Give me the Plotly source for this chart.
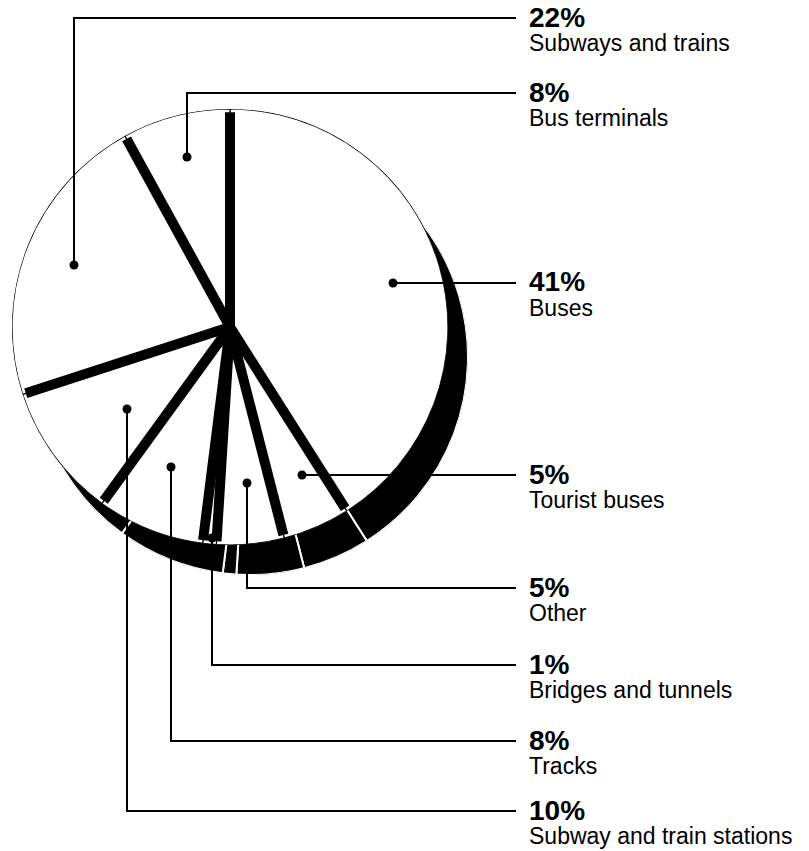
import plotly.graph_objects as go

# ---- data ----
categories = ["Buses", "Tourist buses", "Other", "Bridges and tunnels", "Tracks",
              "Subway and train stations", "Subways and trains", "Bus terminals"]
values = [41, 5, 5, 1, 8, 10, 22, 8]
pct_labels = ["41%", "5%", "5%", "1%", "8%", "10%", "22%", "8%"]

W, H = 809, 851
FONT = "Liberation Sans, Arial, Helvetica, sans-serif"

# slice geometry derived from the values (degrees, clockwise from top)
total = sum(values)
widths = [v / total * 360 for v in values]
starts = []
acc = 0
for w in widths:
    starts.append(acc)
    acc += w
mids = [s + w / 2 for s, w in zip(starts, widths)]

# ---- layout helpers (pixel -> paper) ----
def px(x):
    return x / W

def py(y):
    return 1 - y / H

cx, cy, R = 230, 327, 218          # pie center / radius in pixels
sdx, sdy = 20, 30                  # shadow offset in pixels

fig = go.Figure()

# shadow pie
fig.add_trace(go.Barpolar(
    r=[1] * len(values), theta=mids, width=widths, base=0,
    marker=dict(color="black", line=dict(color="white", width=2)),
    subplot="polar", hoverinfo="skip", showlegend=False))

# main pie
fig.add_trace(go.Barpolar(
    r=[1] * len(values), theta=mids, width=widths, base=0,
    marker=dict(color="white", line=dict(color="black", width=1.2)),
    subplot="polar2", text=categories, hoverinfo="text", showlegend=False))

# thick separators at slice boundaries
sep_r, sep_t = [], []
for s in starts:
    sep_r += [0, 0.985, None]
    sep_t += [s, s, None]
fig.add_trace(go.Scatterpolar(
    r=sep_r, theta=sep_t, mode="lines",
    line=dict(color="black", width=10),
    subplot="polar2", hoverinfo="skip", showlegend=False))

def polar_layout(ox, oy):
    return dict(
        domain=dict(x=[px(cx - R + ox), px(cx + R + ox)],
                    y=[py(cy + R + oy), py(cy - R + oy)]),
        bgcolor="rgba(0,0,0,0)",
        radialaxis=dict(visible=False, range=[0, 1]),
        angularaxis=dict(visible=False, rotation=90, direction="clockwise"),
        hole=0,
    )

# leader lines: dot position and label y (pixels)
dots = {
    "Buses": (393, 283),
    "Tourist buses": (302, 475),
    "Other": (247, 483),
    "Bridges and tunnels": (212, 538),
    "Tracks": (171, 467),
    "Subway and train stations": (127, 409),
    "Subways and trains": (74, 265),
    "Bus terminals": (187, 157),
}
label_y = {
    "Subways and trains": 18,
    "Bus terminals": 93,
    "Buses": 283,
    "Tourist buses": 475,
    "Other": 588,
    "Bridges and tunnels": 665,
    "Tracks": 741,
    "Subway and train stations": 811,
}
LINE_END = 516
TEXT_X = 527

shapes = []
annotations = []
for cat, pct in zip(categories, pct_labels):
    dx, dy = dots[cat]
    ly = label_y[cat]
    path = f"M {px(dx)} {py(dy)} L {px(dx)} {py(ly)} L {px(LINE_END)} {py(ly)}"
    shapes.append(dict(type="path", xref="paper", yref="paper", path=path,
                       line=dict(color="black", width=2), layer="above"))
    r = 4.5
    shapes.append(dict(type="circle", xref="paper", yref="paper",
                       x0=px(dx - r), x1=px(dx + r), y0=py(dy + r), y1=py(dy - r),
                       fillcolor="black", line=dict(color="black", width=0),
                       layer="above"))
    annotations.append(dict(x=px(TEXT_X), y=py(ly - 1), xref="paper", yref="paper",
                            xanchor="left", yanchor="middle", showarrow=False,
                            text=f"<b>{pct}</b>",
                            font=dict(family=FONT, size=28, color="black")))
    annotations.append(dict(x=px(TEXT_X), y=py(ly + 25), xref="paper", yref="paper",
                            xanchor="left", yanchor="middle", showarrow=False,
                            text=cat,
                            font=dict(family=FONT, size=23, color="black")))

fig.update_layout(
    width=W, height=H,
    margin=dict(l=0, r=0, t=0, b=0),
    paper_bgcolor="white", plot_bgcolor="white",
    polar=polar_layout(sdx, sdy),
    polar2=polar_layout(0, 0),
    shapes=shapes,
    annotations=annotations,
    showlegend=False,
)

fig.write_html("out.html", config={"displayModeBar": False},
               post_script="document.body.style.margin='0';document.body.style.padding='0';")
